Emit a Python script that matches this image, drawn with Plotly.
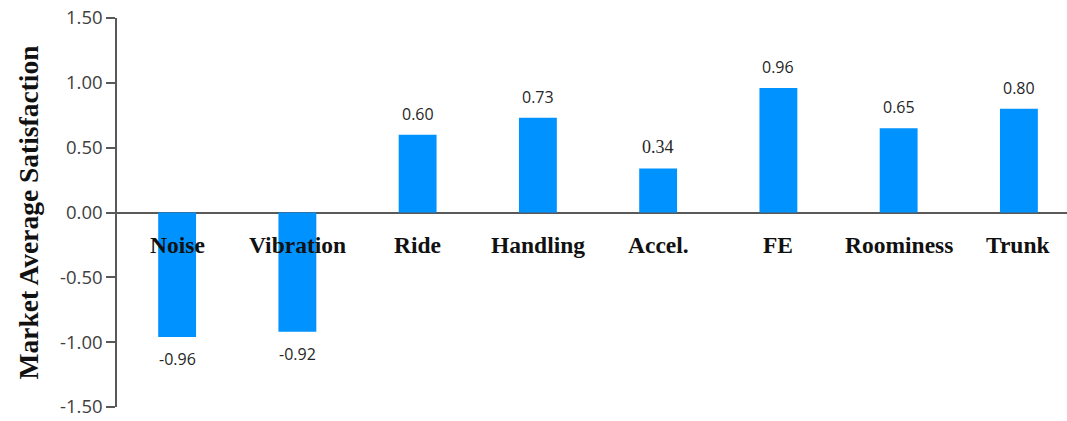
import plotly.graph_objects as go

categories = ["Noise", "Vibration", "Ride", "Handling", "Accel.", "FE", "Roominess", "Trunk"]
satisfaction = [-0.96, -0.92, 0.60, 0.73, 0.34, 0.96, 0.65, 0.80]
y_ticks = [-1.5, -1.0, -0.5, 0.0, 0.5, 1.0, 1.5]
y_tick_text = ["-1.50", "-1.00", "-0.50", "0.00", "0.50", "1.00", "1.50"]

BAR_COLOR = "#0092FF"
AXIS_COLOR = "#595959"
SERIF = "Liberation Serif"
SANS = "Open Sans"
# the Accel. value label is set in the serif face
label_fonts = [SANS, SANS, SANS, SANS, SERIF, SANS, SANS, SANS]

fig = go.Figure()
fig.add_trace(go.Bar(
    x=categories,
    y=satisfaction,
    marker=dict(color=BAR_COLOR, line=dict(width=0)),
    hoverinfo="x+y",
))

# value labels above positive bars, below negative ones
for cat, val, fam in zip(categories, satisfaction, label_fonts):
    fig.add_annotation(
        x=cat, y=val, text=f"{val:.2f}", showarrow=False,
        yshift=21 if val >= 0 else -22,
        font=dict(family=fam, size=16 if fam == SANS else 18, color="#262626"),
    )

# category names sit just under the zero line
for cat in categories:
    fig.add_annotation(
        x=cat, y=0, text=f"<b>{cat}</b>", showarrow=False,
        yshift=-32,
        font=dict(family=SERIF, size=23.5, color="#111111"),
    )

# rotated y-axis title
fig.add_annotation(
    xref="paper", yref="paper", x=0, y=0.5, xanchor="center", yanchor="middle",
    xshift=-89, yshift=0,
    text="<b>Market Average Satisfaction</b>", textangle=-90,
    showarrow=False, font=dict(family=SERIF, size=27.5, color="#111111"),
)

fig.update_layout(
    width=1067, height=421,
    margin=dict(l=117, r=0, t=18, b=14, autoexpand=False),
    paper_bgcolor="white", plot_bgcolor="white",
    showlegend=False,
    bargap=0.685,
    xaxis=dict(
        range=[-0.5, 7.4], showticklabels=False, showgrid=False,
        zeroline=False, showline=False, ticks="", automargin=False,
    ),
    yaxis=dict(
        range=[-1.5, 1.5], tickvals=y_ticks, ticktext=y_tick_text,
        showgrid=False, showline=True, linecolor=AXIS_COLOR, linewidth=1.5,
        ticks="outside", ticklen=9, tickwidth=1.5, tickcolor=AXIS_COLOR,
        zeroline=True, zerolinecolor=AXIS_COLOR, zerolinewidth=1.5,
        ticklabeloverflow="allow", automargin=False,
        tickfont=dict(family=SANS, size=18.5, color="#404040"),
    ),
)

fig.write_html("out.html")
